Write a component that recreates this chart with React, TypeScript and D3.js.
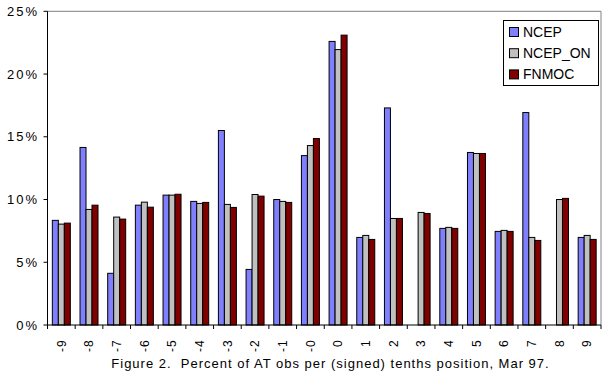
import React from "react";
import * as d3 from "d3";

const categories = ["-9", "-8", "-7", "-6", "-5", "-4", "-3", "-2", "-1", "-0", "0", "1", "2", "3", "4", "5", "6", "7", "8", "9"];
const seriesNames = ["NCEP", "NCEP_ON", "FNMOC"];
const ncep = [8.34, 14.15, 4.12, 9.55, 10.35, 9.85, 15.5, 4.43, 10.0, 13.5, 22.6, 6.98, 17.3, null, 7.7, 13.75, 7.46, 16.93, null, 6.98];
const ncepOn = [8.04, 9.21, 8.6, 9.79, 10.35, 9.69, 9.61, 10.4, 9.85, 14.3, 21.95, 7.14, 8.49, 8.97, 7.78, 13.67, 7.54, 6.98, 10.0, 7.14];
const fnmoc = [8.12, 9.55, 8.44, 9.39, 10.42, 9.77, 9.37, 10.27, 9.77, 14.86, 23.1, 6.82, 8.49, 8.89, 7.7, 13.67, 7.46, 6.74, 10.09, 6.82];
const yTicks = [0, 5, 10, 15, 20, 25];
const colors = ["#8080FF", "#C0C0C0", "#800000"];
const title = "Figure 2.  Percent of AT obs per (signed) tenths position, Mar 97.";

const W = 608;
const H = 379;
const left = 47.5;
const right = 601;
const top = 11.3;
const bottom = 325;
const font = "'Liberation Sans', Arial, Helvetica, sans-serif";

export default function App() {
  const series = [ncep, ncepOn, fnmoc];
  const x = d3.scaleBand<string>().domain(categories).range([left, right]).paddingInner(0.35).paddingOuter(0.175);
  const step = (right - left) / categories.length;
  const xs = d3.scaleBand<number>().domain([0, 1, 2]).range([0, x.bandwidth()]).padding(0);
  const y = d3.scaleLinear().domain([0, 25]).range([bottom, top]);

  return (
    <div style={{ position: "fixed", left: 0, top: 0, width: W, height: H, background: "#fff" }}>
      <svg width={W} height={H} style={{ display: "block" }} fontFamily={font}>
        <rect x={0} y={0} width={W} height={H} fill="#fff" />
        {/* plot frame */}
        <line x1={left} x2={right} y1={top} y2={top} stroke="#808080" strokeWidth={1} />
        <line x1={right} x2={right} y1={top} y2={bottom} stroke="#808080" strokeWidth={1} />
        {/* bars */}
        {categories.map((c, i) => (
          <g key={c}>
            {series.map((s, k) => {
              const v = s[i];
              if (v == null) return null;
              const bx = (x(c) as number) + (xs(k) as number);
              return (
                <rect
                  key={k}
                  x={bx}
                  y={y(v)}
                  width={xs.bandwidth()}
                  height={bottom - y(v)}
                  fill={colors[k]}
                  stroke="#000"
                  strokeWidth={1}
                />
              );
            })}
          </g>
        ))}
        {/* y axis */}
        <line x1={left} x2={left} y1={top} y2={bottom + 4} stroke="#000" strokeWidth={1} />
        {yTicks.map((t) => (
          <g key={t}>
            <line x1={left - 4} x2={left} y1={y(t)} y2={y(t)} stroke="#000" />
            <text x={39} y={y(t)} dy="0.36em" textAnchor="end" fontSize={13} letterSpacing={2} fill="#000">
              {t}%
            </text>
          </g>
        ))}
        {/* x axis */}
        <line x1={left} x2={right} y1={bottom} y2={bottom} stroke="#000" strokeWidth={1} />
        {d3.range(categories.length + 1).map((i) => (
          <line key={i} x1={left + i * step} x2={left + i * step} y1={bottom} y2={bottom + 4} stroke="#000" />
        ))}
        {categories.map((c) => {
          const cx = (x(c) as number) + x.bandwidth() / 2;
          return (
            <text
              key={c}
              transform={`translate(${cx},${339}) rotate(-90)`}
              textAnchor="end"
              dy="0.36em"
              fontSize={12}
              letterSpacing={1.2}
              fill="#000"
            >
              {c}
            </text>
          );
        })}
        {/* title */}
        <text x={330.5} y={367.5} textAnchor="middle" fontSize={13} letterSpacing={1} fill="#000" style={{ whiteSpace: "pre" }}>
          {title}
        </text>
        {/* legend */}
        <rect x={503.5} y={20.5} width={95} height={65} fill="#fff" stroke="#000" />
        {seriesNames.map((n, k) => (
          <g key={n}>
            <rect x={509.5} y={27.5 + k * 21.2} width={9} height={9} fill={colors[k]} stroke="#000" />
            <text x={523} y={32 + k * 21.2} dy="0.36em" fontSize={14} fill="#000">
              {n}
            </text>
          </g>
        ))}
      </svg>
    </div>
  );
}
